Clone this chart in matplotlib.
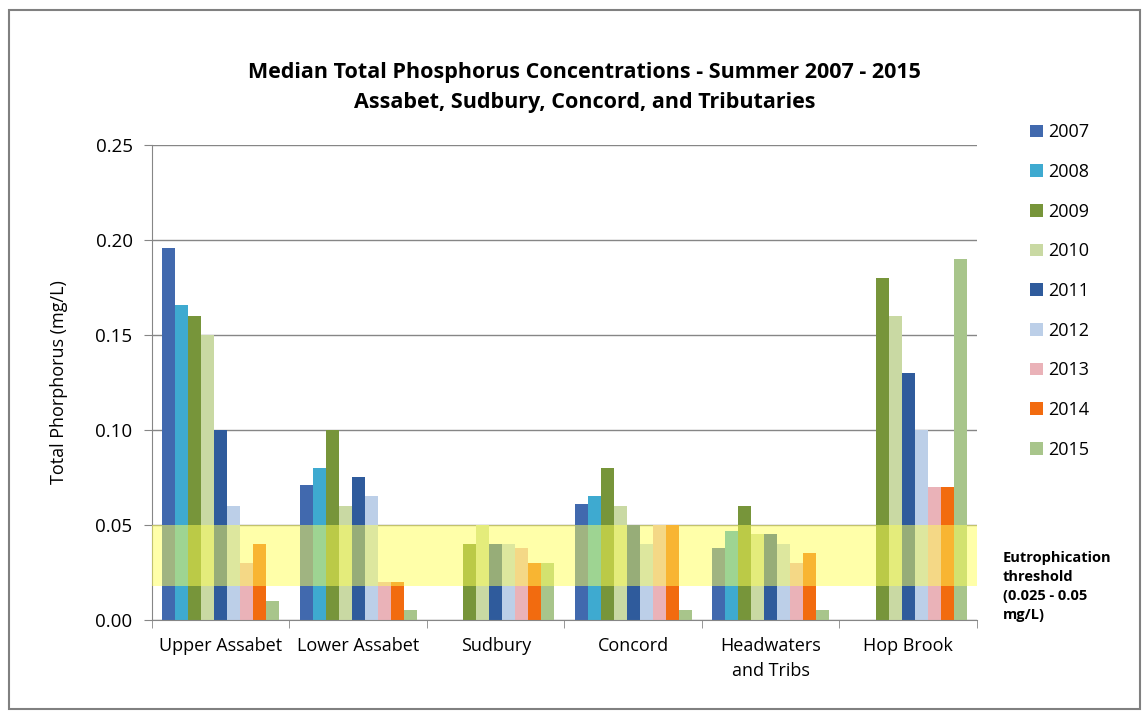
import numpy as np
import matplotlib
matplotlib.use("Agg")
from matplotlib import pyplot as plt
from matplotlib.patches import Rectangle

plt.rcParams['font.family'] = ['Open Sans', 'DejaVu Sans']

sites = ['Upper Assabet', 'Lower Assabet', 'Sudbury', 'Concord',
         'Headwaters\nand Tribs', 'Hop Brook']
years = ['2007', '2008', '2009', '2010', '2011', '2012', '2013', '2014', '2015']

# median TP (mg/L) per year, one value per site; nan = no data
tp_2007 = [0.196, 0.071, np.nan, 0.061, 0.038, np.nan]
tp_2008 = [0.166, 0.080, np.nan, 0.065, 0.047, np.nan]
tp_2009 = [0.160, 0.100, 0.040, 0.080, 0.060, 0.180]
tp_2010 = [0.150, 0.060, 0.050, 0.060, 0.045, 0.160]
tp_2011 = [0.100, 0.075, 0.040, 0.050, 0.045, 0.130]
tp_2012 = [0.060, 0.065, 0.040, 0.040, 0.040, 0.100]
tp_2013 = [0.030, 0.020, 0.038, 0.050, 0.030, 0.070]
tp_2014 = [0.040, 0.020, 0.030, 0.050, 0.035, 0.070]
tp_2015 = [0.010, 0.005, 0.030, 0.005, 0.005, 0.190]
series = [tp_2007, tp_2008, tp_2009, tp_2010, tp_2011,
          tp_2012, tp_2013, tp_2014, tp_2015]

band_low, band_high = 0.018, 0.05  # threshold band as drawn

colors = ['#4169AE', '#3EAAD0', '#77953A', '#C9D9A3', '#2F5B9C',
          '#BCCFE8', '#EAB2B8', '#F26B0F', '#A8C58B']

fig = plt.figure(figsize=(11.42, 7.15), dpi=100)
ax = fig.add_axes([0.1331, 0.1329, 0.7224, 0.6643])

x = np.arange(len(sites))
w = 0.85 / len(years)
for i, (vals, c, yr) in enumerate(zip(series, colors, years)):
    ax.bar(x - 0.425 + w * (i + 0.5), vals, width=w, color=c, label=yr,
           zorder=2)

# translucent yellow band on top of the bars
ax.axhspan(band_low, band_high, color='#FFFF55', alpha=0.5, lw=0, zorder=3)

ax.set_xlim(-0.5, len(sites) - 0.5)
ax.set_ylim(0, 0.25)
ax.set_yticks(np.arange(0, 0.26, 0.05))
ax.set_yticklabels(['%.2f' % v for v in np.arange(0, 0.26, 0.05)])
ax.set_xticks(x)
ax.set_xticklabels(sites, linespacing=1.5)
ax.set_xticks(np.arange(-0.5, len(sites), 1), minor=True)
ax.tick_params(axis='x', which='major', length=0, pad=12, labelsize=13)
ax.tick_params(axis='x', which='minor', length=6, color='#868686')
ax.tick_params(axis='y', length=6, color='#868686', pad=8, labelsize=13.5)
ax.grid(axis='y', color='#868686', lw=1, zorder=1)
ax.set_axisbelow(True)
for s in ['top', 'right']:
    ax.spines[s].set_visible(False)
for s in ['left', 'bottom']:
    ax.spines[s].set_color('#868686')

ax.set_ylabel('Total Phorphorus (mg/L)', fontsize=13, labelpad=20)

fig.text(0.512, 0.898, 'Median Total Phosphorus Concentrations - Summer 2007 - 2015',
         ha='center', va='center', fontsize=15.5, fontweight='bold')
fig.text(0.512, 0.856, 'Assabet, Sudbury, Concord, and Tributaries',
         ha='center', va='center', fontsize=15.5, fontweight='bold')

leg = ax.legend(loc='upper left', bbox_to_anchor=(1.045, 1.08), frameon=False,
                fontsize=13, handlelength=0.7, handleheight=0.7,
                handletextpad=0.3, labelspacing=1.2)

fig.text(0.878, 0.18, 'Eutrophication\nthreshold\n(0.025 - 0.05\nmg/L)',
         ha='left', va='center', fontsize=10.5, fontweight='bold',
         linespacing=1.45)

# outer chart border
fig.patches.append(Rectangle((0.008, 0.008), 0.99, 0.978, transform=fig.transFigure,
                             fill=False, edgecolor='#808080', lw=1.5))

fig.savefig('out.png', dpi=100)
